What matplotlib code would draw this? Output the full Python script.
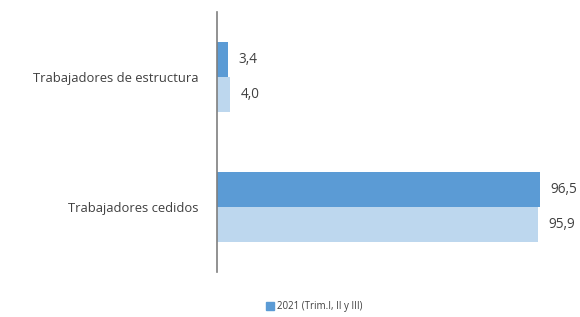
import matplotlib.pyplot as plt
import matplotlib.patches as mpatches

plt.rcParams['font.family'] = ['Open Sans', 'DejaVu Sans']

categories = ['Trabajadores cedidos', 'Trabajadores de estructura']
valores_2021 = [96.5, 3.4]
valores_prev = [95.9, 4.0]
leyenda = '2021 (Trim.I, II y III)'

fig = plt.figure(figsize=(5.8, 3.17), dpi=100)
ax = fig.add_axes([0.374, 0.142, 0.578, 0.82])

h = 0.27
pos = list(range(len(categories)))
ax.barh([p + h / 2 for p in pos], valores_2021, height=h, color='#5B9BD5')
ax.barh([p - h / 2 for p in pos], valores_prev, height=h, color='#BDD7EE')

for p, v in zip(pos, valores_2021):
    ax.text(v + 3, p + h / 2, f'{v:.1f}'.replace('.', ','), va='center', ha='left',
            fontsize=9.8, color='#404040')
for p, v in zip(pos, valores_prev):
    ax.text(v + 3, p - h / 2, f'{v:.1f}'.replace('.', ','), va='center', ha='left',
            fontsize=9.8, color='#404040')

ax.set_xlim(0, 100)
ax.set_ylim(-0.5, 1.5)
ax.set_yticks(pos)
ax.set_yticklabels(categories, fontsize=9.4, color='#404040')
ax.tick_params(axis='y', length=0, pad=13)
ax.set_xticks([])
for s in ['top', 'right', 'bottom']:
    ax.spines[s].set_visible(False)
ax.spines['left'].set_color('#7f7f7f')
ax.spines['left'].set_linewidth(1.2)

handle = mpatches.Patch(color='#5B9BD5', label=leyenda)
fig.legend(handles=[handle], loc='center', bbox_to_anchor=(0.542, 0.032), frameon=False,
           fontsize=7, handlelength=0.8, handleheight=0.8, handletextpad=0.3,
           labelcolor='#404040')

fig.savefig('out.png', dpi=100)
